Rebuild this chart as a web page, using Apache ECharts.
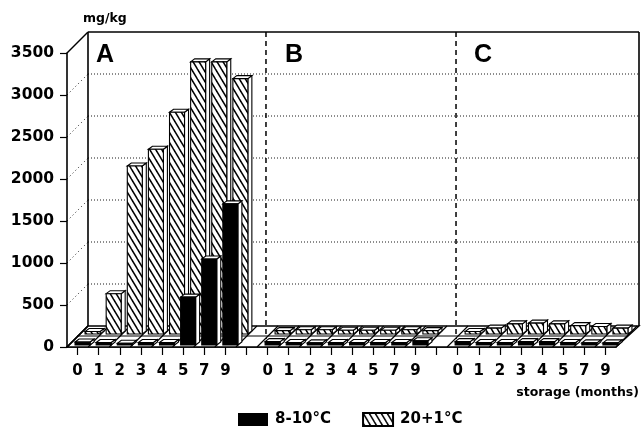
<!DOCTYPE html>
<html><head><meta charset="utf-8">
<style>html,body{margin:0;padding:0;background:#fff}#c{width:642px;height:427px}</style>
<script src="https://cdn.jsdelivr.net/npm/echarts@6/dist/echarts.min.js"></script>
</head><body><div id="c"></div>
<script>
const categories = ['0','1','2','3','4','5','7','9','','0 ','1 ','2 ','3 ','4 ','5 ','7 ','9 ',' ','0  ','1  ','2  ','3  ','4  ','5  ','7  ','9  '];
const cold = [35,30,20,30,30,570,1024,1680,null,40,30,25,30,30,30,30,50,null,40,30,30,40,40,30,25,25];
const warm = [30,480,2000,2200,2640,3240,3240,3040,null,40,50,50,45,45,45,50,40,null,30,70,120,130,120,100,90,70];
const yTicks = [500,1000,1500,2000,2500,3000];
const separators = [8,17];
const FONT = '"DejaVu Sans"';
const D = 21, BD = 4, BW = 15;

const tile = document.createElement('canvas');
tile.width = 6; tile.height = 10;
const g = tile.getContext('2d');
g.fillStyle = '#fff'; g.fillRect(0,0,6,10);
g.strokeStyle = '#000'; g.lineWidth = 1.5;
for (let k=-1;k<=1;k++){ g.beginPath(); g.moveTo(-6+k*6,-10); g.lineTo(12+k*6,20); g.stroke(); }
const hatch = {image: tile, repeat: 'repeat'};

function line(x1,y1,x2,y2,style){return {type:'line',shape:{x1,y1,x2,y2},style:Object.assign({stroke:'#000',lineWidth:1,fill:null},style)};}
function poly(points,fill,lw){return {type:'polygon',shape:{points},style:{fill,stroke:'#000',lineWidth:lw||1.1}};}

function renderFrame(params,api){
  const c = params.coordSys, L=c.x, R=c.x+c.width, T=c.y, B=c.y+c.height;
  const band = c.width/categories.length, kids=[];
  kids.push(poly([[L,B],[R,B],[R+D+2,B-D],[L+D,B-D]],'#fff',1.4));
  kids.push(line(L+D,T-D,L+D,B-D,{lineWidth:1.6}));
  kids.push(line(L+D,T-D,R+D+2,T-D,{lineWidth:1.6}));
  kids.push(line(R+D+2,T-D,R+D+2,B-D,{lineWidth:1.6}));
  kids.push(line(L,T,L+D,T-D,{lineWidth:1.4}));
  kids.push(line(L,B,L+D,B-D,{lineWidth:1.4}));
  yTicks.forEach(v=>{
    const y = api.coord([0,v])[1];
    kids.push(line(L,y,L+D,y-D,{lineDash:[1,3],lineWidth:0.9}));
    kids.push(line(L+D,y-D,R+D+2,y-D,{lineDash:[1,2],lineWidth:0.9}));
  });
  for(let i=0;i<=categories.length;i++){
    const x=L+i*band;
    kids.push(line(x,B,x+D,B-D,{lineWidth:1.1}));
  }
  kids.push(line(L+10,B-11,R+11,B-11,{lineWidth:1.1}));
  separators.forEach(i=>{
    const x = api.coord([i,0])[0]+19.5;
    kids.push(line(x,T-D,x,B-8,{lineWidth:1.5,lineDash:[5,4]}));
  });
  return {type:'group',children:kids};
}
function makeBar(dx,dy,fill,sideFill){
  return function(params,api){
    const p0 = api.coord([api.value(0),0]), p1 = api.coord([api.value(0),api.value(1)]);
    const x = p0[0]+dx-BW/2, yb = p0[1]+dy, yt = p1[1]+dy;
    return {type:'group',children:[
      poly([[x+BW,yt],[x+BW+BD,yt-BD+1],[x+BW+BD,yb-BD+1],[x+BW,yb]],sideFill),
      poly([[x,yt],[x+BD,yt-BD+1],[x+BW+BD,yt-BD+1],[x+BW,yt]],'#fff'),
      poly([[x,yt],[x+BW,yt],[x+BW,yb],[x,yb]],fill)
    ]};
  };
}
const toData = a => a.map((v,i)=>[i,v]).filter(d=>d[1]!==null);

const chart = echarts.init(document.getElementById('c'),null,{renderer:'canvas'});
chart.setOption({
  animation:false,
  backgroundColor:'#fff',
  grid:{left:67,right:25,top:53,bottom:80,containLabel:false},
  xAxis:{type:'category',data:categories,boundaryGap:true,
    name:'storage (months)',nameLocation:'end',nameGap:23,
    nameTextStyle:{fontFamily:FONT,fontWeight:'bold',fontSize:12.5,color:'#000',align:'right',verticalAlign:'top',padding:[39,0,0,0]},
    axisLine:{lineStyle:{color:'#000',width:1.6}},
    axisTick:{show:true,alignWithLabel:true,length:8,interval:0,lineStyle:{color:'#000',width:1.2}},
    axisLabel:{interval:0,margin:17,color:'#000',fontFamily:FONT,fontWeight:'bold',fontSize:15,formatter:v=>v.trim()},
    splitLine:{show:false}},
  yAxis:{type:'value',min:0,max:3500,interval:500,
    name:'mg/kg',nameLocation:'end',nameGap:28,
    nameTextStyle:{fontFamily:FONT,fontWeight:'bold',fontSize:12.5,color:'#000',align:'left',padding:[0,0,0,16]},
    axisLine:{show:true,lineStyle:{color:'#000',width:1.6}},
    axisTick:{show:true,length:7,lineStyle:{color:'#000',width:1.2}},
    axisLabel:{margin:13,color:'#000',fontFamily:FONT,fontWeight:'bold',fontSize:15.5,formatter:v=>String(v)},
    splitLine:{show:false}},
  legend:{left:233,top:407,itemWidth:30,itemHeight:13,itemGap:31,selectedMode:false,icon:'rect',
    data:['8-10°C','20+1°C'],
    textStyle:{fontFamily:FONT,fontWeight:'bold',fontSize:15,color:'#000',padding:[0,0,0,2]}},
  series:[
    {name:'frame',type:'custom',silent:true,z:1,data:[[0,0]],renderItem:renderFrame},
    {name:'20+1°C',type:'custom',z:2,renderItem:makeBar(15,-13,hatch,'#fff'),data:toData(warm),
     itemStyle:{color:hatch,borderColor:'#000',borderWidth:1}},
    {name:'8-10°C',type:'custom',z:3,renderItem:makeBar(5,-2,'#000','#fff'),data:toData(cold),
     itemStyle:{color:'#000'}}
  ],
  graphic:[
    {type:'text',left:96,top:43,style:{text:'A',font:'bold 25px "Liberation Sans"',fill:'#000'}},
    {type:'text',left:285,top:43,style:{text:'B',font:'bold 25px "Liberation Sans"',fill:'#000'}},
    {type:'text',left:474,top:43,style:{text:'C',font:'bold 25px "Liberation Sans"',fill:'#000'}}
  ]
});
</script></body></html>
